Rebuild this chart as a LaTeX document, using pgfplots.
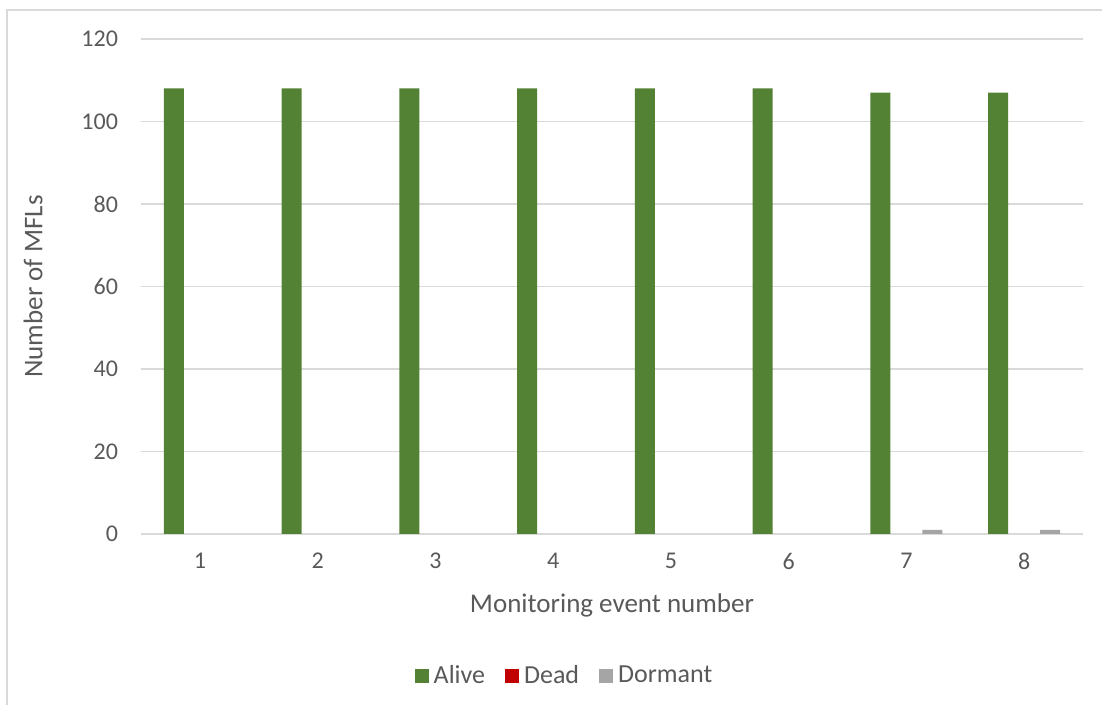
\documentclass[border=0pt]{standalone}
\usepackage{fontspec}
\setmainfont{Carlito}
\usepackage{pgfplots}
\pgfplotsset{compat=1.18}
\definecolor{alive}{HTML}{548235}
\definecolor{dead}{HTML}{C00000}
\definecolor{dormant}{HTML}{A5A5A5}
\definecolor{txt}{HTML}{595959}
\definecolor{grd}{HTML}{D9D9D9}
\begin{document}
\begin{tikzpicture}
\useasboundingbox (0,0) rectangle (551pt,352.5pt);
\draw[grd, line width=0.8pt] (3.5pt,0) -- (3.5pt,347.5pt) -- (551pt,347.5pt);
\begin{axis}[
  at={(70.5pt,85.5pt)}, anchor=south west,
  scale only axis, width=471pt, height=247.5pt,
  ybar, bar width=10pt,
  xmin=0.5, xmax=8.5, ymin=0, ymax=120,
  xtick={1,...,8}, ytick={0,20,...,120},
  axis line style={draw=none},
  major tick length=0pt,
  ymajorgrids, grid style={grd, line width=0.6pt},
  tick label style={font=\fontsize{12}{14}\selectfont, text=txt},
  /pgf/number format/assume math mode=true,
  yticklabel style={xshift=-8pt},
  xticklabel style={yshift=-6pt},
  xlabel={Monitoring event number},
  ylabel={Number of MFLs},
  every axis x label/.style={at={(axis description cs:0.5,-0.1434)}, anchor=center, font=\fontsize{13.5}{16}\selectfont, text=txt},
  every axis y label/.style={at={(axis description cs:-0.1146,0.5)}, anchor=center, rotate=90, font=\fontsize{13.5}{16}\selectfont, text=txt},
  legend style={at={(axis description cs:0.4485,-0.2869)}, anchor=center, draw=none,
    font=\fontsize{13}{15}\selectfont, text=txt, column sep=0pt,
    /tikz/every odd column/.append style={column sep=2.5pt},
    /tikz/every even column/.append style={column sep=10pt},
    nodes={inner xsep=0pt}},
  legend columns=3,
  legend image code/.code={\fill[#1] (0pt,-3.5pt) rectangle (7pt,3.5pt);},
  unbounded coords=discard,
  y filter/.expression={y==0 ? nan : y},
]
\addplot[fill=alive, draw=none, bar shift=-13pt] coordinates {(1,108) (2,108) (3,108) (4,108) (5,108) (6,108) (7,107) (8,107)};
\addlegendimage{fill=dead, draw=none}
\addplot[fill=dormant, draw=none, bar shift=13pt] coordinates {(1,0) (2,0) (3,0) (4,0) (5,0) (6,0) (7,1) (8,1)};
\legend{Alive, Dead, Dormant}
\end{axis}
\end{tikzpicture}
\end{document}
